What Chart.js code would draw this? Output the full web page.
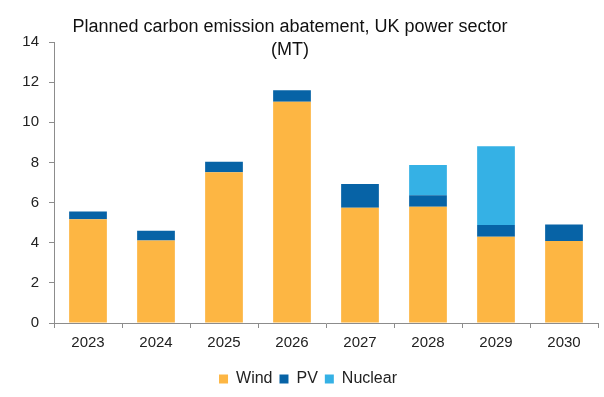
<!DOCTYPE html>
<html>
<head>
<meta charset="UTF-8">
<script src="https://cdn.jsdelivr.net/npm/chart.js@4"></script>
<style>
  body { margin: 0; background: #fff; }
  #wrap { width: 604px; height: 397px; }
</style>
</head>
<body>
<div id="wrap"><canvas id="chart" width="604" height="397"></canvas></div>
<script>
// values (MT)
const years = ['2023', '2024', '2025', '2026', '2027', '2028', '2029', '2030'];
const wind = [5.17, 4.11, 7.51, 11.02, 5.74, 5.79, 4.30, 4.08];
const pv = [0.39, 0.49, 0.53, 0.57, 1.18, 0.57, 0.58, 0.83];
const nuclear = [0, 0, 0, 0, 0, 1.51, 3.93, 0];
const titleLines = ['Planned carbon emission abatement, UK power sector', '(MT)'];

const FONT = '"Liberation Sans", Arial, sans-serif';
const axisColor = '#8c8c8c';

// title is drawn a bit left of centre, like the original
const titlePlugin = {
  id: 'offTitle',
  afterDraw(chart) {
    const ctx = chart.ctx;
    ctx.save();
    ctx.font = '18px ' + FONT;
    ctx.fillStyle = '#111';
    ctx.textAlign = 'center';
    ctx.textBaseline = 'alphabetic';
    ctx.fillText(titleLines[0], 290, 32);
    ctx.fillText(titleLines[1], 290, 55);
    ctx.restore();
  }
};

new Chart(document.getElementById('chart'), {
  type: 'bar',
  data: {
    labels: years,
    datasets: [
      { label: 'Wind', data: wind, backgroundColor: '#fdb643' },
      { label: 'PV', data: pv, backgroundColor: '#0763a6' },
      { label: 'Nuclear', data: nuclear, backgroundColor: '#35b1e5' }
    ]
  },
  options: {
    responsive: false,
    animation: false,
    layout: { padding: { top: 42, right: 6, left: 18, bottom: 0 } },
    datasets: { bar: { categoryPercentage: 1, barPercentage: 0.555 } },
    plugins: {
      title: { display: false },
      tooltip: { enabled: false },
      legend: {
        position: 'bottom',
        labels: {
          boxWidth: 9, boxHeight: 9, padding: 7,
          color: '#222', font: { family: FONT, size: 16 }
        }
      }
    },
    scales: {
      x: {
        stacked: true,
        border: { display: true, color: axisColor, width: 1 },
        grid: { drawOnChartArea: false, drawTicks: true, tickLength: 5, color: axisColor },
        ticks: { color: '#222', font: { family: FONT, size: 15 }, padding: 6 },
        afterFit(scale) { scale.height = 41; }
      },
      y: {
        stacked: true,
        min: 0, max: 14,
        border: { display: true, color: axisColor, width: 1 },
        grid: { drawOnChartArea: false, drawTicks: true, tickLength: 5, color: axisColor },
        ticks: { stepSize: 2, color: '#222', font: { family: FONT, size: 15 }, padding: 10 },
        afterFit(scale) { scale.width = 36; }
      }
    }
  },
  plugins: [titlePlugin]
});
</script>
</body>
</html>
